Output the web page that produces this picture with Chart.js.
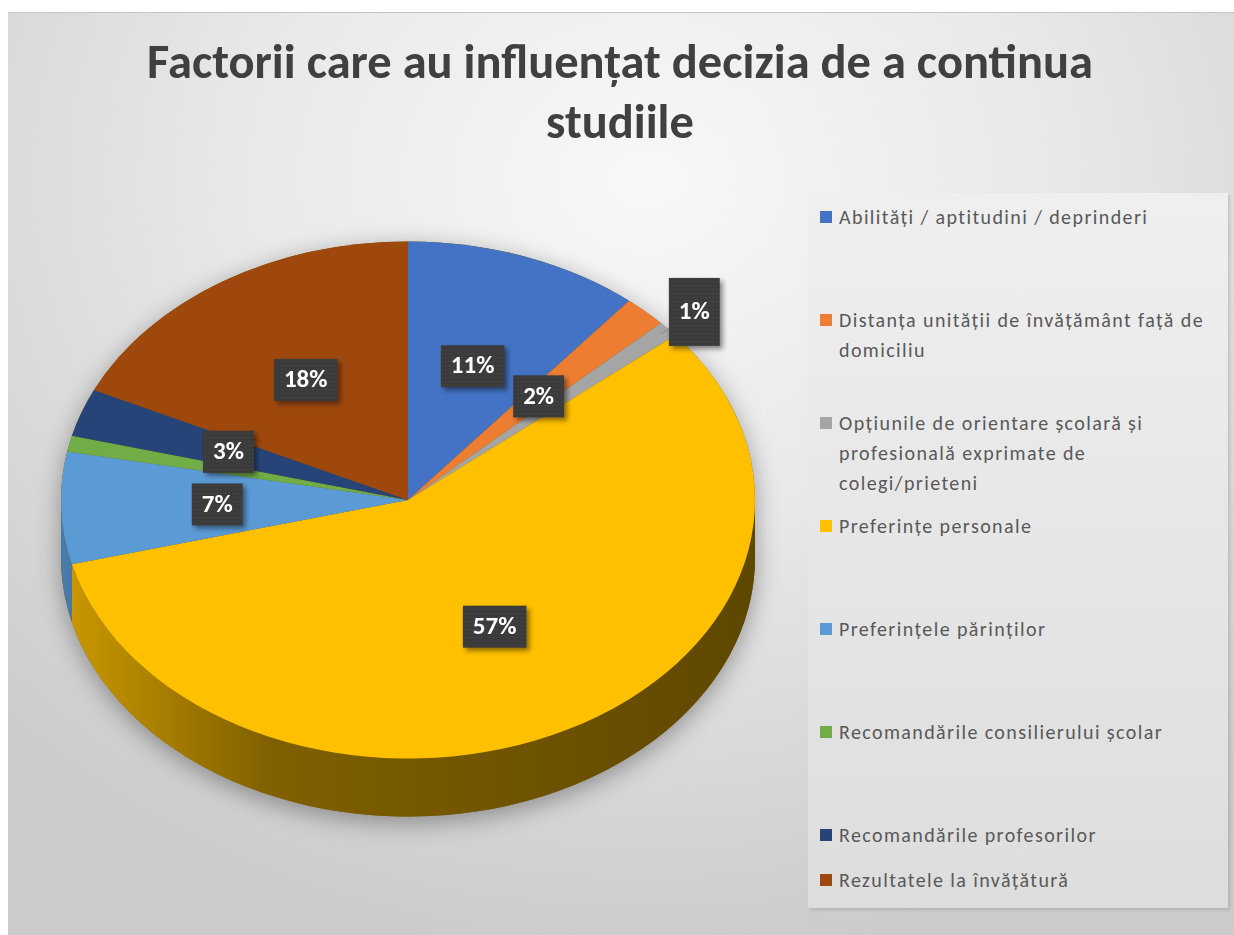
<!DOCTYPE html>
<html lang="ro">
<head>
  <meta charset="UTF-8">
  <title>Factorii care au influențat decizia de a continua studiile</title>
  <script src="https://cdn.jsdelivr.net/npm/chart.js"></script>
  <style>
    body { margin: 0; background: #fff; }
    #wrap { position: relative; width: 1234px; height: 935px; overflow: hidden; }
    #bg {
      position: absolute; left: 8px; top: 12px; right: 0; bottom: 0;
      border-top: 1px solid #c4c4c4;
      background: radial-gradient(ellipse 75% 85% at 52% 18%, #f8f8f8 0%, #e8e8e8 45%, #cbcbcb 100%);
    }
    #title {
      position: absolute; left: 0; top: 32px; width: 1240px; text-align: center;
      font-family: Carlito, Lato, sans-serif;
      font-weight: bold; font-size: 48.5px; line-height: 60px; color: #404040;
    }
    #legend {
      position: absolute; left: 808px; top: 193px; width: 420px; height: 715px;
      background: linear-gradient(#efefef, #dddddd);
      box-shadow: 2px 2px 3px rgba(0,0,0,0.12);
      box-sizing: border-box; padding-top: 9px;
      font-family: Carlito, Lato, sans-serif; font-size: 20px; letter-spacing: 1.4px; color: #595959;
    }
    .item { position: relative; height: 103px; padding-left: 31px; line-height: 30px; white-space: nowrap; }
    .item:nth-child(7) { height: 45px; }
    .item span.sw { position: absolute; left: 12px; top: 9px; width: 12px; height: 12px; }
    canvas { position: absolute; left: 0; top: 0; }
  </style>
</head>
<body>
<div id="wrap">
  <div id="bg"></div>
  <div id="title">Factorii care au influențat decizia de a continua<br>studiile</div>
  <div id="legend"></div>
  <canvas id="pieChart" width="1234" height="935"></canvas>
</div>

<script>
  // categorii (randuri = cum apar in legenda)
  const categories = [
    ['Abilități / aptitudini / deprinderi'],
    ['Distanța unității de învățământ față de', 'domiciliu'],
    ['Opțiunile de orientare școlară și', 'profesională exprimate de', 'colegi/prieteni'],
    ['Preferințe personale'],
    ['Preferințele părinților'],
    ['Recomandările consilierului școlar'],
    ['Recomandările profesorilor'],
    ['Rezultatele la învățătură']
  ];
  const percents = [11, 2, 1, 57, 7, 1, 3, 18];
  const labelShown = [true, true, true, true, true, false, true, true];
  const colors = ['#4472C4', '#ED7D31', '#A5A5A5', '#FFC000', '#5B9BD5', '#70AD47', '#264478', '#9E480E'];

  // legenda html
  const legendEl = document.getElementById('legend');
  categories.forEach((lines, i) => {
    const div = document.createElement('div');
    div.className = 'item';
    div.innerHTML = '<span class="sw" style="background:' + colors[i] + '"></span>' + lines.join('<br>');
    legendEl.appendChild(div);
  });

  function shade(hex, f) {
    const n = parseInt(hex.slice(1), 16);
    const r = Math.round(((n >> 16) & 255) * f);
    const g = Math.round(((n >> 8) & 255) * f);
    const b = Math.round((n & 255) * f);
    return 'rgb(' + r + ',' + g + ',' + b + ')';
  }

  // pie inclinat + marginea 3D
  const tiltPlugin = {
    id: 'tilt',
    beforeDatasetsDraw(chart, args, opts) {
      const ctx = chart.ctx;
      const arcs = chart.getDatasetMeta(0).data;
      const cx = arcs[0].x, cy = arcs[0].y, r = arcs[0].outerRadius;
      const ry = r * opts.tilt, d = opts.depth;

      // umbra
      ctx.save();
      ctx.shadowColor = 'rgba(0,0,0,0.35)';
      ctx.shadowBlur = 24;
      ctx.shadowOffsetY = 6;
      ctx.fillStyle = '#7a5c00';
      ctx.beginPath();
      ctx.ellipse(cx, cy, r, ry, 0, Math.PI, 0);
      ctx.lineTo(cx + r, cy + d);
      ctx.ellipse(cx, cy + d, r, ry, 0, 0, Math.PI);
      ctx.closePath();
      ctx.fill();
      ctx.restore();

      // marginea fiecarei felii din fata
      arcs.forEach((arc, i) => {
        const a = Math.max(arc.startAngle, 0);
        const b = Math.min(arc.endAngle, Math.PI);
        if (b <= a) return;
        const grad = ctx.createLinearGradient(cx - r, 0, cx + r, 0);
        grad.addColorStop(0, shade(colors[i], 0.8));
        grad.addColorStop(0.3, shade(colors[i], 0.5));
        grad.addColorStop(1, shade(colors[i], 0.37));
        ctx.beginPath();
        ctx.ellipse(cx, cy, r, ry, 0, a, b);
        ctx.ellipse(cx, cy + d, r, ry, 0, b, a, true);
        ctx.closePath();
        ctx.fillStyle = grad;
        ctx.fill();
      });

      ctx.save();
      ctx.translate(cx, cy);
      ctx.scale(1, opts.tilt);
      ctx.translate(-cx, -cy);
    },
    afterDatasetsDraw(chart) {
      chart.ctx.restore();
    }
  };

  // etichete procentuale in casete inchise
  const boxLabels = {
    id: 'boxLabels',
    afterDatasetsDraw(chart) {
      const ctx = chart.ctx;
      const arcs = chart.getDatasetMeta(0).data;
      const tilt = chart.options.plugins.tilt.tilt;

      const pc = document.createElement('canvas');
      pc.width = 4; pc.height = 4;
      const pctx = pc.getContext('2d');
      pctx.fillStyle = '#3b3b3b';
      pctx.fillRect(0, 0, 4, 4);
      pctx.fillStyle = '#4d4d4d';
      pctx.fillRect(1, 1, 1, 1);
      const pattern = ctx.createPattern(pc, 'repeat');

      ctx.save();
      ctx.font = 'bold 25px Carlito, Lato, sans-serif';
      ctx.textAlign = 'center';
      ctx.textBaseline = 'middle';
      arcs.forEach((arc, i) => {
        if (!labelShown[i]) return;
        const mid = (arc.startAngle + arc.endAngle) / 2;
        const r = arc.outerRadius;
        const outside = percents[i] <= 1;
        const k = outside ? 1.1 : 0.55;
        const x = arc.x + Math.cos(mid) * r * k;
        const y = arc.y + Math.sin(mid) * r * tilt * k;
        const txt = percents[i] + '%';
        const w = ctx.measureText(txt).width + 20;
        const h = outside ? 68 : 42;

        if (outside) {
          ctx.strokeStyle = '#8c8c8c';
          ctx.lineWidth = 1;
          ctx.beginPath();
          ctx.moveTo(arc.x + Math.cos(mid) * r * 0.97, arc.y + Math.sin(mid) * r * tilt * 0.97);
          ctx.lineTo(x, y);
          ctx.stroke();
        }
        ctx.save();
        ctx.shadowColor = 'rgba(0,0,0,0.45)';
        ctx.shadowBlur = 5;
        ctx.shadowOffsetX = 3;
        ctx.shadowOffsetY = 3;
        ctx.fillStyle = pattern;
        ctx.fillRect(x - w / 2, y - h / 2, w, h);
        ctx.restore();
        ctx.fillStyle = '#ffffff';
        ctx.fillText(txt, x, y + 1);
      });
      ctx.restore();
    }
  };

  new Chart(document.getElementById('pieChart').getContext('2d'), {
    type: 'pie',
    data: {
      labels: categories,
      datasets: [{
        data: percents,
        backgroundColor: colors,
        borderWidth: 0,
        hoverOffset: 0,
        clip: false
      }]
    },
    options: {
      responsive: false,
      animation: false,
      events: [],
      layout: { padding: { left: 61, right: 479, top: 153, bottom: 88 } },
      plugins: {
        legend: { display: false },
        tooltip: { enabled: false },
        tilt: { tilt: 0.745, depth: 58 }
      }
    },
    plugins: [tiltPlugin, boxLabels]
  });
</script>
</body>
</html>
